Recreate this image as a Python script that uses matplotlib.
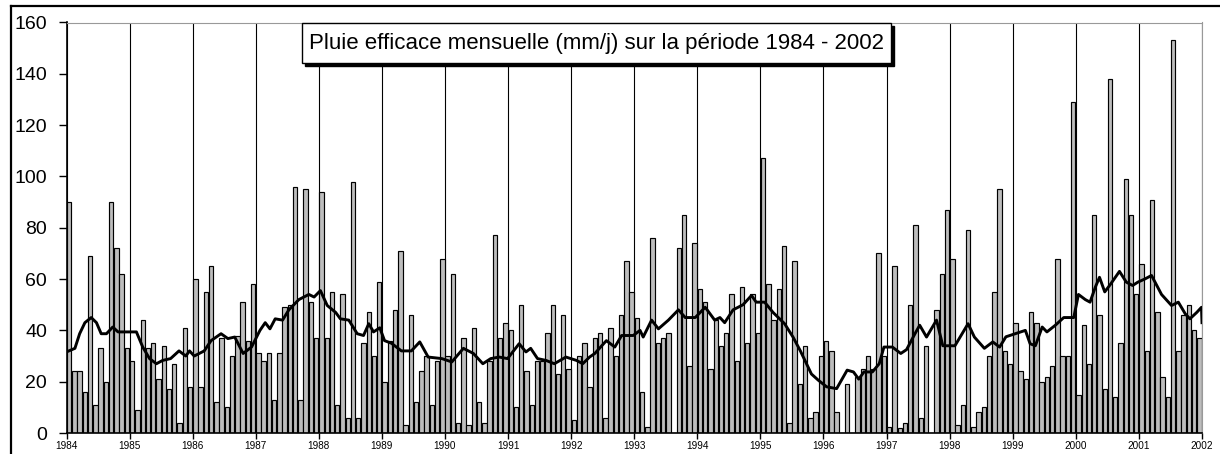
import matplotlib
matplotlib.use("Agg")
import matplotlib.pyplot as plt
from matplotlib.patches import Rectangle
from matplotlib.lines import Line2D


# ==============================
# Data
# ==============================

years = list(range(1984, 2003))

# pluie efficace mensuelle (mm/j), 12 values per year, 1984 -> 2001
monthly_rain = [
    90, 24, 24, 16, 69, 11, 33, 20, 90, 72, 62, 33,      # 1984
    28, 9, 44, 33, 35, 21, 34, 17, 27, 4, 41, 18,        # 1985
    60, 18, 55, 65, 12, 37, 10, 30, 38, 51, 36, 58,      # 1986
    31, 28, 31, 13, 31, 49, 50, 96, 13, 95, 51, 37,      # 1987
    94, 37, 55, 11, 54, 6, 98, 6, 35, 47, 30, 59,        # 1988
    20, 36, 48, 71, 3, 46, 12, 24, 30, 11, 28, 68,       # 1989
    30, 62, 4, 37, 3, 41, 12, 4, 28, 77, 37, 43,         # 1990
    40, 10, 50, 24, 11, 28, 28, 39, 50, 23, 46, 25,      # 1991
    5, 30, 35, 18, 37, 39, 6, 41, 30, 46, 67, 55,        # 1992
    45, 16, 2.5, 76, 35, 37, 39, 0, 72, 85, 26, 74,      # 1993
    56, 51, 25, 44, 34, 39, 54, 28, 57, 35, 54, 39,      # 1994
    107, 58, 44, 56, 73, 4, 67, 19, 34, 6, 8, 30,        # 1995
    36, 32, 8, 0, 19, 0, 22, 25, 30, 25, 70, 30,         # 1996
    2.5, 65, 2, 4, 50, 81, 6, 34, 0, 48, 62, 87,         # 1997
    68, 3, 11, 79, 2.5, 8, 10, 30, 55, 95, 32, 27,       # 1998
    43, 24, 21, 47, 43, 20, 22, 26, 68, 30, 30, 129,     # 1999
    15, 42, 27, 85, 46, 17, 138, 14, 35, 99, 85, 54,     # 2000
    66, 32, 91, 47, 22, 14, 153, 32, 46, 50, 40, 37,     # 2001
]

# smoothed curve (month index since Jan 1984, value)
ma_months = [
    0, 1.6, 2.5, 3.5, 4.7, 5.7, 6.6, 7.6, 8.8, 9.8, 11.1, 13.3, 14.5, 15.8,
    17.1, 18.3, 19.8, 21.4, 22.7, 23.4, 24.3, 26.2, 27.5, 29.4, 30.7, 32,
    33.6, 35.2, 36.8, 37.8, 38.7, 39.7, 41.1, 42.3, 44.2, 46.1, 47.1, 48.3,
    49.6, 51.2, 52.1, 53.7, 55.3, 56.5, 57.5, 58.4, 59.6, 60.5, 61.8, 63.7,
    65.6, 67.2, 68.8, 71.4, 73.3, 75.5, 77.4, 79.2, 80.7, 82.3, 83.9, 86.1,
    87.4, 88.3, 89.6, 91.2, 92.8, 95, 97, 98.2, 99.5, 100.5, 102.7, 104.3,
    105.6, 107.8, 109.1, 109.7, 111.3, 112.6, 114.5, 116.4, 117.7, 119.6,
    121.5, 123.3, 124.3, 125.2, 126.8, 128.7, 130.3, 131.2, 132.8, 134.4,
    136.6, 138.2, 139.6, 141.7, 143, 144.6, 146.5, 148.5, 149.7, 150.7,
    151.7, 153.3, 154.6, 155.5, 157.1, 158.7, 159.8, 161.4, 162.3, 163.6,
    165.5, 166.7, 169, 171.5, 172.7, 174.6, 176.2, 177.5, 178.7, 180.5,
    182.4, 183.3, 184.3, 185.6, 186.5, 188.1, 189.7, 191.6, 192.5, 193.8,
    194.7, 195.7, 196.5, 197.5, 198.6, 200.3, 201.6, 202.8, 203.8, 205.1,
    206.4, 208.3, 210.2, 211.5, 212.8, 213.7, 215, 215.9, 216,
]
ma_values = [
    31.6, 33, 38.7, 43, 45, 43, 38.7, 38.7, 41.3, 39.4, 39.4, 39.4, 33.5, 29,
    27, 28.3, 29, 32, 30, 32, 30, 32, 36, 38.7, 36.8, 37.4,
    31, 33.5, 40, 43, 40.6, 44.5, 44, 48, 52, 54, 53, 55.5,
    49.7, 47, 44.5, 44, 38.7, 38, 42.6, 39.4, 41, 36, 35, 32,
    32, 35.5, 29.6, 29, 27.7, 33, 31, 27, 29, 29.6, 29, 34.8,
    31.6, 33, 29, 28.3, 27, 29.6, 28.3, 27, 29.6, 31, 36, 33.5,
    38, 38, 40, 37.4, 44, 40.6, 44, 48, 45, 45,
    49, 44, 45, 43, 48, 50, 53.6, 51, 51, 47,
    42.6, 37.4, 32, 23, 20.6, 18, 17.3, 24.5, 23.8, 21,
    23.8, 23.8, 27, 33.5, 33.5, 31, 32.5, 38.7, 42, 37.4,
    44, 34, 34, 42.6, 37.4, 33, 35.5, 33.5, 37.5, 38.7,
    40, 34.8, 34, 41.3, 39.4, 42, 45, 45, 54, 52,
    51, 56.8, 60.7, 55, 58, 63, 58.8, 57.5, 58.8, 60,
    61.4, 54, 49.7, 51, 46.5, 44.5, 47, 49, 43,
]

y_ticks = [0, 20, 40, 60, 80, 100, 120, 140, 160]
title_text = "Pluie efficace mensuelle (mm/j) sur la période 1984 - 2002"


# ==============================
# Figure
# ==============================

plt.rcParams["font.family"] = ["Liberation Sans", "DejaVu Sans"]

W, H = 1220, 454
fig = plt.figure(figsize=(W / 100, H / 100), dpi=100)
fig.patch.set_facecolor("white")

left_px, right_px, top_px, bottom_px = 66.5, 1202, 22.5, 433
ax = fig.add_axes([left_px / W, 1 - bottom_px / H,
                   (right_px - left_px) / W, (bottom_px - top_px) / H])

month_pos = [i + 0.5 for i in range(len(monthly_rain))]
ax.bar(month_pos, monthly_rain, width=0.84, color="#bdbdbd",
       edgecolor="black", linewidth=0.85, zorder=2)
ax.plot(ma_months, ma_values, color="black", linewidth=2.1, zorder=3)

year_pos = [12 * i for i in range(len(years))]
ax.set_xlim(0, year_pos[-1])
ax.set_ylim(0, 160)
ax.set_xticks(year_pos)
ax.set_xticklabels([str(y) for y in years], fontsize=7.2)
ax.set_yticks(y_ticks)
ax.set_yticklabels([str(v) for v in y_ticks], fontsize=14)

ax.tick_params(axis="y", direction="out", length=6, width=1, pad=8)
ax.tick_params(axis="x", direction="out", length=4, width=1, pad=2)

# vertical year lines
ax.grid(axis="x", color="black", linewidth=0.8, zorder=1)
ax.grid(axis="y", visible=False)

ax.spines["left"].set_color("black")
ax.spines["bottom"].set_color("black")
ax.spines["left"].set_linewidth(1.2)
ax.spines["bottom"].set_linewidth(1.2)
ax.spines["top"].set_color("#999999")
ax.spines["right"].set_color("#999999")


# ==============================
# Title box with shadow
# ==============================

bx0, bx1, by0, by1 = 302, 891, 23, 63
fig.patches.append(Rectangle((bx0 / W + 3 / W, 1 - by1 / H - 3 / H),
                             (bx1 - bx0) / W, (by1 - by0) / H,
                             transform=fig.transFigure, facecolor="black",
                             edgecolor="black", zorder=5))
fig.patches.append(Rectangle((bx0 / W, 1 - by1 / H),
                             (bx1 - bx0) / W, (by1 - by0) / H,
                             transform=fig.transFigure, facecolor="white",
                             edgecolor="black", linewidth=1, zorder=6))
fig.text((bx0 + bx1) / 2 / W, 1 - (by0 + by1) / 2 / H, title_text,
         ha="center", va="center", fontsize=16, zorder=7)

# outer chart frame (left and top)
fig.add_artist(Line2D([11 / W, 11 / W], [0, 1 - 6 / H], transform=fig.transFigure,
                      color="black", linewidth=1.6))
fig.add_artist(Line2D([11 / W, 1], [1 - 6 / H, 1 - 6 / H], transform=fig.transFigure,
                      color="black", linewidth=1.6))

fig.savefig("out.png", dpi=100)
plt.close(fig)
print("Chart generated.")
